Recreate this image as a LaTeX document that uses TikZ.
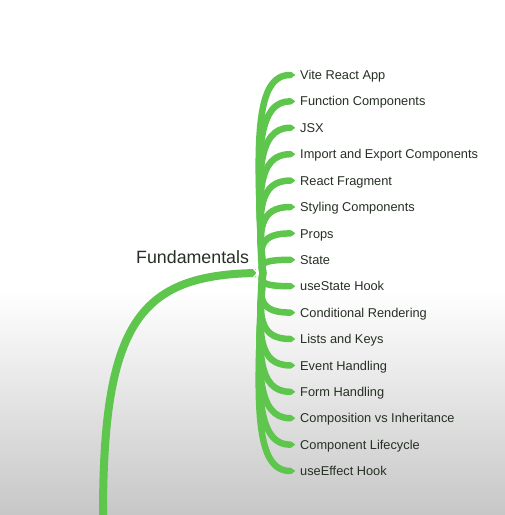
\documentclass[tikz,border=0pt]{standalone}
\usepackage{fontspec}
\setmainfont{Liberation Sans}
\usetikzlibrary{calc,arrows.meta}
\definecolor{leaf}{HTML}{5EC64C}
\definecolor{ink}{HTML}{263024}
\begin{document}
\begin{tikzpicture}[x=1bp,y=-1bp,
  topic/.style={anchor=west, inner sep=0pt, text=ink,
    font=\fontsize{12.8bp}{15bp}\selectfont, text height=9.2bp, text depth=0bp},
  root/.style={anchor=west, inner sep=0pt, text=ink,
    font=\fontsize{17.8bp}{21bp}\selectfont, text height=12.8bp, text depth=0bp},
  branch/.style={draw=leaf, line width=6.5bp, line cap=round, line join=round,
    -{Triangle[length=6bp,width=6.5bp,round,fill=leaf]}},
  trunk/.style={draw=leaf, line width=8bp, line cap=butt},
  notch/.style={draw=white, line width=1.3bp}]
\useasboundingbox (0,0) rectangle (505,515);
% backdrop: white above, fading to grey below
\fill[white] (0,0) rectangle (505,291);
\shade[top color=white, bottom color=black!22] (0,290) rectangle (505,515);

% central topic and anchors of the map
\node[root] (root) at (136,257) {Fundamentals};
\coordinate (stem) at (103,515);
\coordinate (tip) at (256,273);
\coordinate (hub) at (263,273);

% sub-topics
\foreach \t [count=\i] in {Vite React App, Function Components, JSX,
    Import and Export Components, React Fragment, Styling Components,
    Props, State, useState Hook, Conditional Rendering, Lists and Keys,
    Event Handling, Form Handling, Composition vs Inheritance,
    Component Lifecycle, useEffect Hook}
  \node[topic] (t\i) at (300,{273+(\i-8.5)*26.4}) {\t};

% branches: bow out from the hub, then sweep right into each sub-topic
\foreach \i in {1,...,16} {
  \pgfmathsetmacro\dy{(\i-8.5)*26.4}
  \pgfmathsetmacro\ax{-4-0.02*abs(\dy)}
  \pgfmathsetmacro\bx{-1-0.035*abs(\dy)}
  \draw[branch] (hub)
    .. controls ($(hub)+(\ax,{0.67*\dy})$)
           and ($(hub |- t\i.west)+(\bx,0)$)
    .. ([xshift=-5bp]t\i.west);
}

% main trunk coming up from below
\draw[trunk] (stem) .. controls (103,322) and (140,275) .. (tip);
\draw[notch] (253.5,268.5) -- (257.5,273) -- (253.5,277.5);
\end{tikzpicture}
\end{document}
